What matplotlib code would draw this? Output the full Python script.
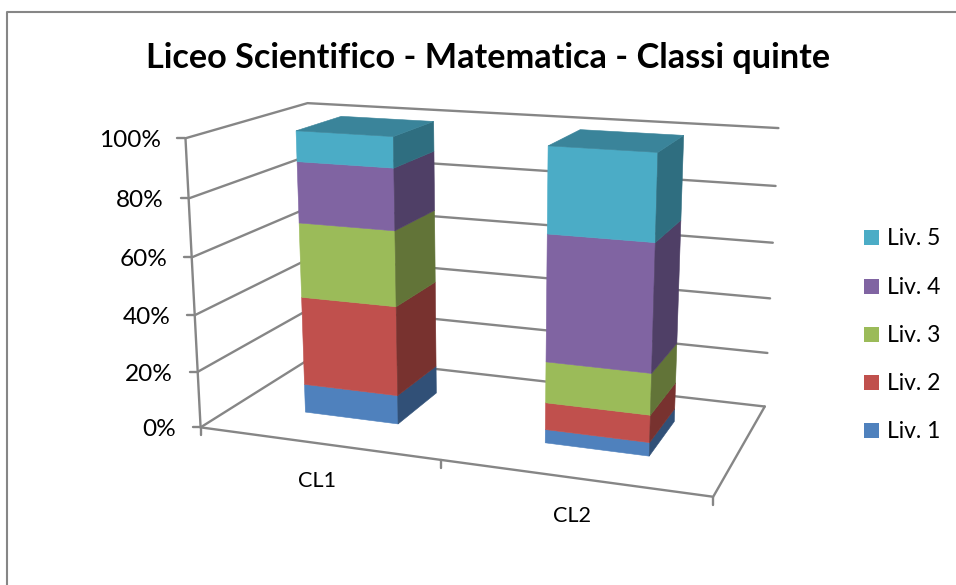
import numpy as np, matplotlib
matplotlib.use("Agg")
import matplotlib.pyplot as plt
from matplotlib.patches import Polygon, Rectangle

plt.rcParams['font.family'] = ['Lato', 'DejaVu Sans']

# ---- data ----
title = "Liceo Scientifico - Matematica - Classi quinte"
categories = ["CL1", "CL2"]
levels = ["Liv. 1", "Liv. 2", "Liv. 3", "Liv. 4", "Liv. 5"]
cl1_values = [10.3, 31.7, 26.3, 21.2, 10.5]
cl2_values = [4.7, 9.4, 14.2, 43.1, 28.6]
y_ticks = [0, 20, 40, 60, 80, 100]

# ---- style ----
front_colors = ['#4F81BD', '#C0504D', '#9BBB59', '#8064A2', '#4BACC6']
side_colors = ['#315077', '#78322F', '#627438', '#4F3F66', '#2F6E80']
top_color = '#3A849A'
line_color = '#868686'
W, H = 956, 585

# ---- 3D view: screen position of known points of the chart box ----
GRID = [t / 100 for t in y_ticks]
front_left = [(200, 427.3), (198, 371.7), (195, 315), (191.7, 257.3), (188.5, 198.3), (186, 138.3)]
back_right = [(764.3, 406.7), (767.3, 353), (770.5, 298), (773, 242.7), (775.7, 186), (778.3, 128.3)]
calib = [((0, 0, z), p) for z, p in zip(GRID, front_left)] + [((1, 1, z), p) for z, p in zip(GRID, back_right)]
calib += [((0, 1, 1), (306.7, 103.3)), ((0, 1, 0), (316, 355)), ((1, 0, 0), (713.3, 495.7)), ((.5, 0, 0), (441, 461.7))]
A = []
for (x, y, z), (u, v) in calib:
    u, v = u / 1000, v / 1000
    A.append([x, y, z, 1, 0, 0, 0, 0, -u * x, -u * y, -u * z, -u])
    A.append([0, 0, 0, 0, x, y, z, 1, -v * x, -v * y, -v * z, -v])
P = np.linalg.svd(np.array(A))[2][-1].reshape(3, 4)


def proj(x, y, z):
    q = P @ np.array([x, y, z, 1.0])
    return q[0] / q[2] * 1000, q[1] / q[2] * 1000


fig = plt.figure(figsize=(W / 100, H / 100), dpi=100)
ax = fig.add_axes([0, 0, 1, 1])
ax.set_xlim(0, W)
ax.set_ylim(H, 0)
ax.axis('off')


def line(*pts, lw=1.7):
    xs, ys = zip(*pts)
    ax.plot(xs, ys, color=line_color, lw=lw, solid_capstyle='round', solid_joinstyle='round', zorder=1)


# chart frame (only top and left are inside the picture)
line((7.5, H), (7.5, 11.5), (W, 11.5), lw=1.5)

# walls, floor and axes
for g, t in zip(GRID, y_ticks):
    line(proj(0, 0, g), proj(0, 1, g), proj(1, 1, g))
    px, py = proj(0, 0, g)
    line((px - 8, py), (px, py))
    ax.text(px - 24.5, py + 2.2, f"{t}%", ha='right', va='center', fontsize=17.6, color='black')
line(proj(0, 0, 0), proj(0, 0, 1))
line(proj(0, 0, 0), proj(1, 0, 0), proj(1, 1, 0))
for fx in (0, .5, 1):
    px, py = proj(fx, 0, 0)
    line((px, py), (px, py + 8))

# bars
bar_x = [(.15, .35), (.65, .85)]
bar_y = (.30, .70)
for (x0, x1), vals, cat in zip(bar_x, [cl1_values, cl2_values], categories):
    y0, y1 = bar_y
    tot = sum(vals)
    bottom = 0.0
    for v, fc, sc in zip(vals, front_colors, side_colors):
        z0, z1 = bottom / tot, (bottom + v) / tot
        ax.add_patch(Polygon([proj(x0, y0, z0), proj(x1, y0, z0), proj(x1, y0, z1), proj(x0, y0, z1)],
                             closed=True, fc=fc, ec=fc, lw=.4, zorder=3))
        ax.add_patch(Polygon([proj(x1, y0, z0), proj(x1, y1, z0), proj(x1, y1, z1), proj(x1, y0, z1)],
                             closed=True, fc=sc, ec=sc, lw=.4, zorder=3))
        bottom += v
    ax.add_patch(Polygon([proj(x0, y0, 1), proj(x1, y0, 1), proj(x1, y1, 1), proj(x0, y1, 1)],
                         closed=True, fc=top_color, ec=top_color, lw=.4, zorder=3))
    cx, cy = proj((x0 + x1) / 2, 0, 0)
    ax.text(cx - 1, cy + 38, cat, ha='center', va='center', fontsize=15.6, color='black')

# legend
legend_y = [430, 382, 334, 286, 237.3]
for name, col, ly in zip(levels, front_colors, legend_y):
    ax.add_patch(Rectangle((864, ly - 7.5), 15, 15, fc=col, ec='none', zorder=3))
    ax.text(887, ly + 1, name, ha='left', va='center', fontsize=16.5, color='black')

ax.text(488.5, 57.5, title, ha='center', va='center', fontsize=24.7, fontweight='bold', color='black')

fig.savefig('out.png', dpi=100)
